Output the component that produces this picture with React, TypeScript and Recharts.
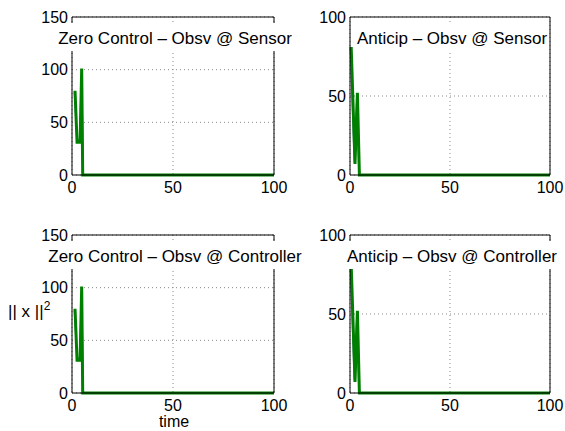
import React from 'react';
import { LineChart, Line, XAxis, YAxis, CartesianGrid } from 'recharts';

// time samples and ||x||^2 (only the first few steps are non-zero)
const zeroObsvTime = [1.5, 2.5, 4, 4.8, 5.3, 100];
const zeroObsvNorm = [80, 31, 31, 101, 0, 0];
const zeroTrueTime = [1.2, 2.5, 3.8, 4.8, 5.5, 100];
const zeroTrueNorm = [79, 33, 33, 100, 0, 0];

const anticipObsvTime = [0.6, 2.5, 3.7, 4.7, 100];
const anticipObsvNorm = [81, 7, 52, 0, 0];
const anticipTrueTime = [0.2, 2.2, 3.5, 4.5, 100];
const anticipTrueNorm = [81, 8, 50, 0, 0];

const xTicks = [0, 50, 100];
const zeroTicks = [0, 50, 100, 150];
const anticipTicks = [0, 50, 100];

const FONT = '"Liberation Sans", Arial, Helvetica, sans-serif';

const toRows = (t: number[], v: number[]) => t.map((time, i) => ({ time, value: v[i] }));

interface SubplotProps {
    left: number;
    top: number;
    w: number;
    h: number;
    title: string;
    yTicks: number[];
    obsv: { time: number; value: number }[];
    truth: { time: number; value: number }[];
}

function Subplot({ left, top, w, h, title, yTicks, obsv, truth }: SubplotProps) {
    // plot area = chart origin + margin + axis size
    const m = { left: 10, top: 9, right: 14, bottom: 5 };
    const yW = 40;
    const xH = 25;
    const yMax = yTicks[yTicks.length - 1];
    const tickStyle = { fontSize: 16, fontFamily: FONT, fill: '#000' };
    const ox = m.left + yW;
    const oy = m.top + 1;
    return (
        <div style={{ position: 'absolute', left: left - ox, top: top - oy }}>
            <LineChart width={w + ox + 1 + m.right} height={h + oy + xH + m.bottom} margin={m}>
                <CartesianGrid stroke="#888" strokeDasharray="1 3" />
                <XAxis
                    dataKey="time"
                    type="number"
                    domain={[0, 100]}
                    ticks={xTicks}
                    height={xH}
                    stroke="#000"
                    tickLine={false}
                    tickSize={0}
                    tickMargin={7}
                    tick={tickStyle}
                    allowDuplicatedCategory={false}
                />
                <XAxis
                    xAxisId="top"
                    orientation="top"
                    type="number"
                    domain={[0, 100]}
                    height={1}
                    stroke="#000"
                    tick={false}
                    tickLine={false}
                />
                <YAxis
                    type="number"
                    domain={[0, yMax]}
                    ticks={yTicks}
                    width={yW}
                    stroke="#000"
                    tickLine={false}
                    tickSize={0}
                    tickMargin={4}
                    tick={tickStyle}
                />
                <YAxis
                    yAxisId="right"
                    orientation="right"
                    type="number"
                    domain={[0, yMax]}
                    width={1}
                    stroke="#000"
                    tick={false}
                    tickLine={false}
                />
                <Line data={truth} dataKey="value" stroke="#4a6fa8" strokeWidth={1.5} dot={false} isAnimationActive={false} />
                <Line data={obsv} dataKey="value" stroke="#008000" strokeWidth={3} dot={false} isAnimationActive={false} />
            </LineChart>
            <div
                style={{
                    position: 'absolute',
                    left: ox + w / 2 + 2,
                    top: oy + 6,
                    transform: 'translateX(-50%)',
                    background: '#fff',
                    fontFamily: FONT,
                    fontSize: 17,
                    paddingTop: 3,
                    lineHeight: '25px',
                    whiteSpace: 'nowrap',
                    paddingLeft: 2,
                    paddingRight: 2,
                }}
            >
                {title}
            </div>
        </div>
    );
}

export default function App() {
    const zeroObsv = toRows(zeroObsvTime, zeroObsvNorm);
    const zeroTrue = toRows(zeroTrueTime, zeroTrueNorm);
    const antObsv = toRows(anticipObsvTime, anticipObsvNorm);
    const antTrue = toRows(anticipTrueTime, anticipTrueNorm);
    return (
        <div style={{ position: 'absolute', left: 0, top: 0, width: 565, height: 431, background: '#fff', fontFamily: FONT }}>
            <Subplot left={72} top={17} w={202} h={158} title="Zero Control – Obsv @ Sensor" yTicks={zeroTicks} obsv={zeroObsv} truth={zeroTrue} />
            <Subplot left={350} top={17} w={200} h={158} title="Anticip – Obsv @ Sensor" yTicks={anticipTicks} obsv={antObsv} truth={antTrue} />
            <Subplot left={72} top={235} w={202} h={158} title="Zero Control – Obsv @ Controller" yTicks={zeroTicks} obsv={zeroObsv} truth={zeroTrue} />
            <Subplot left={350} top={235} w={200} h={158} title="Anticip – Obsv @ Controller" yTicks={anticipTicks} obsv={antObsv} truth={antTrue} />
            <div style={{ position: 'absolute', left: 8, top: 299, fontSize: 17, whiteSpace: 'nowrap' }}>
                || x ||<sup style={{ fontSize: 12 }}>2</sup>
            </div>
            <div style={{ position: 'absolute', left: 174, top: 413, transform: 'translateX(-50%)', fontSize: 16 }}>time</div>
        </div>
    );
}
